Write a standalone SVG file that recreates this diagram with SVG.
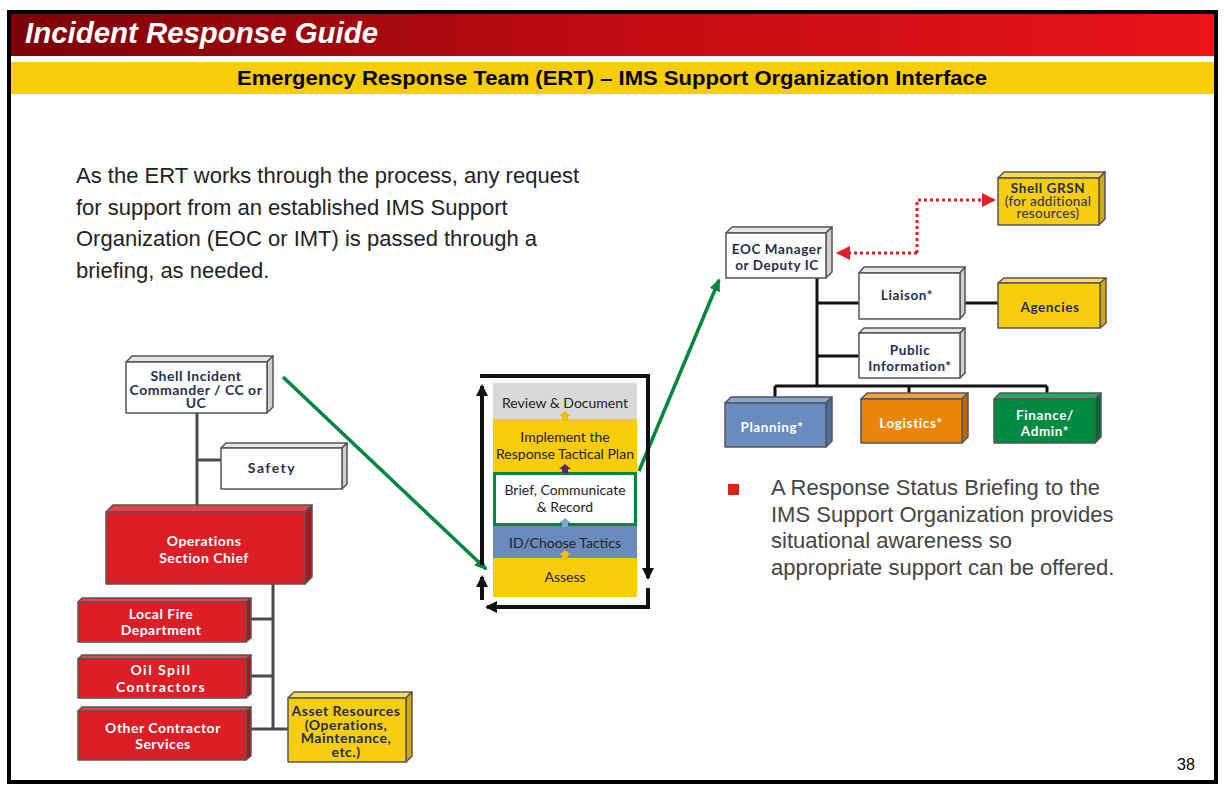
<svg xmlns="http://www.w3.org/2000/svg" width="1224" height="792" viewBox="0 0 1224 792">
<defs>
<linearGradient id="redband" x1="0" y1="0" x2="1" y2="0">
<stop offset="0" stop-color="#7c0208"/>
<stop offset="0.5" stop-color="#c10b12"/>
<stop offset="1" stop-color="#ea1419"/>
</linearGradient>
<marker id="grn" markerWidth="13" markerHeight="11" refX="11" refY="5.5" orient="auto" markerUnits="userSpaceOnUse">
<path d="M0,0 L13,5.5 L0,11 z" fill="#00873e"/>
</marker>
<marker id="blk" markerWidth="12" markerHeight="12" refX="10" refY="6" orient="auto" markerUnits="userSpaceOnUse">
<path d="M0,0 L12,6 L0,12 z" fill="#111"/>
</marker>
<marker id="red" markerWidth="14" markerHeight="14" refX="12" refY="7" orient="auto" markerUnits="userSpaceOnUse">
<path d="M0,0 L14,7 L0,14 z" fill="#e01f27"/>
</marker>
</defs>
<style>
.edge{stroke:#555;stroke-width:1.5;stroke-linejoin:round}
.w .f{fill:#fff}.w .t{fill:#e6e6e6}.w .s{fill:#cfcfcf}
.r .f{fill:#dc1e26}.r .t{fill:#e7434a}.r .s{fill:#b0141b}
.y .f{fill:#f7cd10}.y .t{fill:#f9dc55}.y .s{fill:#d2a900}
.b .f{fill:#6a8bbd}.b .t{fill:#87a3cd}.b .s{fill:#4d6c9d}
.o .f{fill:#e9860a}.o .t{fill:#f0a040}.o .s{fill:#bb6800}
.g .f{fill:#008a44}.g .t{fill:#2fa462}.g .s{fill:#006a32}
.lbl{font-family:Lato,"Liberation Sans",sans-serif;font-weight:bold;font-size:14px;letter-spacing:0.5px;text-anchor:middle}
.lbl2{font-family:Lato,"Liberation Sans",sans-serif;font-weight:bold;font-size:13.5px;letter-spacing:0.6px;text-anchor:middle}
.reg{font-weight:normal;letter-spacing:0.3px}
.navy{fill:#1f2f4f}.wt{fill:#fff}
.step{font-family:Lato,"Liberation Sans",sans-serif;font-size:14px;fill:#222;text-anchor:middle}
.body{font-family:"Liberation Sans",Arial,sans-serif;font-size:22px}
.org{stroke:#4a4a4a;stroke-width:3;fill:none}
.orgb{stroke:#111;stroke-width:3;fill:none}
</style>
<rect x="0" y="0" width="1224" height="792" fill="#fff"/>
<rect x="9" y="12" width="1207" height="770" fill="none" stroke="#000" stroke-width="4"/>
<rect x="11" y="14" width="1203" height="42" fill="url(#redband)"/>
<text x="25" y="43" font-family="Liberation Sans,Arial,sans-serif" font-size="29" font-weight="bold" font-style="italic" fill="#fff" textLength="353" lengthAdjust="spacingAndGlyphs">Incident Response Guide</text>
<rect x="11" y="62" width="1203" height="32" fill="#f8cc06"/>
<text x="237" y="85" font-family="Liberation Sans,Arial,sans-serif" font-size="21" font-weight="bold" fill="#000" textLength="750" lengthAdjust="spacingAndGlyphs">Emergency Response Team (ERT) – IMS Support Organization Interface</text>

<g id="intro" class="body" fill="#222">
<text x="76" y="183">As the ERT works through the process, any request</text>
<text x="76" y="215">for support from an established IMS Support</text>
<text x="76" y="246">Organization (EOC or IMT) is passed through a</text>
<text x="76" y="278">briefing, as needed.</text>
</g>

<g id="bullet" class="body" fill="#444">
<rect x="728" y="484" width="11" height="11" fill="#d8261c"/>
<text x="771" y="495">A Response Status Briefing to the</text>
<text x="771" y="522">IMS Support Organization provides</text>
<text x="771" y="548">situational awareness so</text>
<text x="771" y="575">appropriate support can be offered.</text>
</g>

<text x="1186" y="770" font-family="Liberation Sans,Arial,sans-serif" font-size="16" fill="#000" text-anchor="middle">38</text>

<!-- connectors -->
<g id="connectors">
<path class="org" d="M197,413 V512 M197,460 H221 M273,584 V729 M247,619 H273 M247,676 H273 M247,729 H288"/>
<path class="orgb" d="M817,278 V386 M817,303 H859 M965,303 H998 M817,356 H859 M775,386 H1047 M775,386 V397 M909,386 V393 M1047,386 V393"/>
<path d="M917,253 V200 H994" fill="none" stroke="#e01f27" stroke-width="3" stroke-dasharray="3 3" marker-end="url(#red)"/>
<path d="M917,253 H838" fill="none" stroke="#e01f27" stroke-width="3" stroke-dasharray="3 3" marker-end="url(#red)"/>
<line x1="283" y1="377" x2="486" y2="569" stroke="#00873e" stroke-width="3.5" marker-end="url(#grn)"/>
<line x1="639" y1="471" x2="719" y2="280" stroke="#00873e" stroke-width="3.5" marker-end="url(#grn)"/>
<path d="M482,565 V386" fill="none" stroke="#111" stroke-width="4" marker-end="url(#blk)"/>
<path d="M482,600 V577" fill="none" stroke="#111" stroke-width="4" marker-end="url(#blk)"/>
<path d="M480,376 H648 V578" fill="none" stroke="#111" stroke-width="4" marker-end="url(#blk)"/>
<path d="M648,588 V607 H487" fill="none" stroke="#111" stroke-width="4" marker-end="url(#blk)"/>
</g>

<!-- left org chart -->
<g id="commander" class="w">
<polygon class="t edge" points="126,362 132,356 273,356 267,362"/>
<polygon class="s edge" points="267,362 273,356 273,407 267,413"/>
<rect class="f edge" x="126" y="362" width="141" height="51"/>
<text class="lbl navy" x="196" y="381">Shell Incident<tspan x="196" dy="14">Commander / CC or</tspan><tspan x="196" dy="13">UC</tspan></text>
</g>
<g id="safety" class="w">
<polygon class="t edge" points="221,448 226,443 347,443 342,448"/>
<polygon class="s edge" points="342,448 347,443 347,484 342,489"/>
<rect class="f edge" x="221" y="448" width="121" height="41"/>
<text class="lbl navy" x="272" y="473" style="letter-spacing:1.5px">Safety</text>
</g>
<g id="ops" class="r">
<polygon class="t edge" points="106,512 113,505 312,505 305,512"/>
<polygon class="s edge" points="305,512 312,505 312,577 305,584"/>
<rect class="f edge" x="106" y="512" width="199" height="72"/>
<text class="lbl wt" x="204" y="546">Operations<tspan x="204" dy="16.5">Section Chief</tspan></text>
</g>
<g id="fire" class="r">
<polygon class="t edge" points="78,602 82,598 251,598 246,602"/>
<polygon class="s edge" points="246,602 251,598 251,638 246,642"/>
<rect class="f edge" x="78" y="602" width="168" height="40"/>
<text class="lbl wt" x="161" y="619">Local Fire<tspan x="161" dy="16">Department</tspan></text>
</g>
<g id="oilspill" class="r">
<polygon class="t edge" points="78,659 82,655 251,655 246,659"/>
<polygon class="s edge" points="246,659 251,655 251,694 246,698"/>
<rect class="f edge" x="78" y="659" width="168" height="39"/>
<text class="lbl wt" x="161" y="675" style="letter-spacing:1.5px">Oil Spill<tspan x="161" dy="17">Contractors</tspan></text>
</g>
<g id="other" class="r">
<polygon class="t edge" points="78,711 82,707 251,707 246,711"/>
<polygon class="s edge" points="246,711 251,707 251,756 246,760"/>
<rect class="f edge" x="78" y="711" width="168" height="49"/>
<text class="lbl wt" x="163" y="733">Other Contractor<tspan x="163" dy="16">Services</tspan></text>
</g>
<g id="asset" class="y">
<polygon class="t edge" points="288,698 294,692 412,692 406,698"/>
<polygon class="s edge" points="406,698 412,692 412,756 406,762"/>
<rect class="f edge" x="288" y="698" width="118" height="64"/>
<text class="lbl navy" x="346" y="716">Asset Resources<tspan x="346" dy="13.5">(Operations,</tspan><tspan x="346" dy="13.5">Maintenance,</tspan><tspan x="346" dy="13.5">etc.)</tspan></text>
</g>

<!-- process stack -->
<g id="process">
<rect x="493" y="383" width="144" height="36" fill="#d9d9d9"/>
<rect x="493" y="419" width="144" height="53" fill="#f8cc0a"/>
<rect x="493" y="526" width="144" height="32" fill="#6a8bbd"/>
<rect x="493" y="558" width="144" height="39" fill="#f8cc0a"/>
<rect x="494.5" y="473.5" width="141" height="51" fill="#fff" stroke="#00873e" stroke-width="3"/>
<text class="step" x="565" y="408">Review &amp; Document</text>
<text class="step" x="565" y="442">Implement the<tspan x="565" dy="17">Response Tactical Plan</tspan></text>
<text class="step" x="565" y="495">Brief, Communicate<tspan x="565" dy="17">&amp; Record</tspan></text>
<text class="step" x="565" y="548">ID/Choose Tactics</text>
<text class="step" x="565" y="582">Assess</text>
<polygon points="565,411 571,416 568,416 568,421 562,421 562,416 559,416" fill="#f2bf00"/>
<polygon points="565,464 571,469 568,469 568,473 562,473 562,469 559,469" fill="#5c2468"/>
<polygon points="565,518 571,523 568,523 568,527 562,527 562,523 559,523" fill="#86a3cf"/>
<polygon points="565,550 571,555 568,555 568,560 562,560 562,555 559,555" fill="#f2bf00"/>
</g>

<!-- right org chart -->
<g id="eoc" class="w">
<polygon class="t edge" points="726,233 732,227 832,227 826,233"/>
<polygon class="s edge" points="826,233 832,227 832,272 826,278"/>
<rect class="f edge" x="726" y="233" width="100" height="45"/>
<text class="lbl2 navy" x="777" y="254">EOC Manager<tspan x="777" dy="16">or Deputy IC</tspan></text>
</g>
<g id="grsn" class="y">
<polygon class="t edge" points="998,178 1004,172 1105,172 1099,178"/>
<polygon class="s edge" points="1099,178 1105,172 1105,219 1099,225"/>
<rect class="f edge" x="998" y="178" width="101" height="47"/>
<text class="lbl2 navy" x="1048" y="193">Shell GRSN<tspan class="reg" x="1048" dy="12.5">(for additional</tspan><tspan class="reg" x="1048" dy="12">resources)</tspan></text>
</g>
<g id="liaison" class="w">
<polygon class="t edge" points="859,273 864,267 965,267 960,273"/>
<polygon class="s edge" points="960,273 965,267 965,313 960,319"/>
<rect class="f edge" x="859" y="273" width="101" height="46"/>
<text class="lbl2 navy" x="907" y="300">Liaison*</text>
</g>
<g id="agencies" class="y">
<polygon class="t edge" points="998,283 1004,278 1106,278 1100,283"/>
<polygon class="s edge" points="1100,283 1106,278 1106,323 1100,328"/>
<rect class="f edge" x="998" y="283" width="102" height="45"/>
<text class="lbl2 navy" x="1050" y="312">Agencies</text>
</g>
<g id="publicinfo" class="w">
<polygon class="t edge" points="859,333 864,328 965,328 960,333"/>
<polygon class="s edge" points="960,333 965,328 965,373 960,378"/>
<rect class="f edge" x="859" y="333" width="101" height="45"/>
<text class="lbl2 navy" x="910" y="355">Public<tspan x="910" dy="15.5">Information*</tspan></text>
</g>
<g id="planning" class="b">
<polygon class="t edge" points="725,403 731,397 832,397 826,403"/>
<polygon class="s edge" points="826,403 832,397 832,441 826,447"/>
<rect class="f edge" x="725" y="403" width="101" height="44"/>
<text class="lbl2 wt" x="772" y="432">Planning*</text>
</g>
<g id="logistics" class="o">
<polygon class="t edge" points="861,399 867,393 968,393 962,399"/>
<polygon class="s edge" points="962,399 968,393 968,437 962,443"/>
<rect class="f edge" x="861" y="399" width="101" height="44"/>
<text class="lbl2 wt" x="911" y="428">Logistics*</text>
</g>
<g id="finance" class="g">
<polygon class="t edge" points="994,399 1000,393 1101,393 1095,399"/>
<polygon class="s edge" points="1095,399 1101,393 1101,437 1095,443"/>
<rect class="f edge" x="994" y="399" width="101" height="44"/>
<text class="lbl2 wt" x="1045" y="420">Finance/<tspan x="1045" dy="16">Admin*</tspan></text>
</g>
</svg>
